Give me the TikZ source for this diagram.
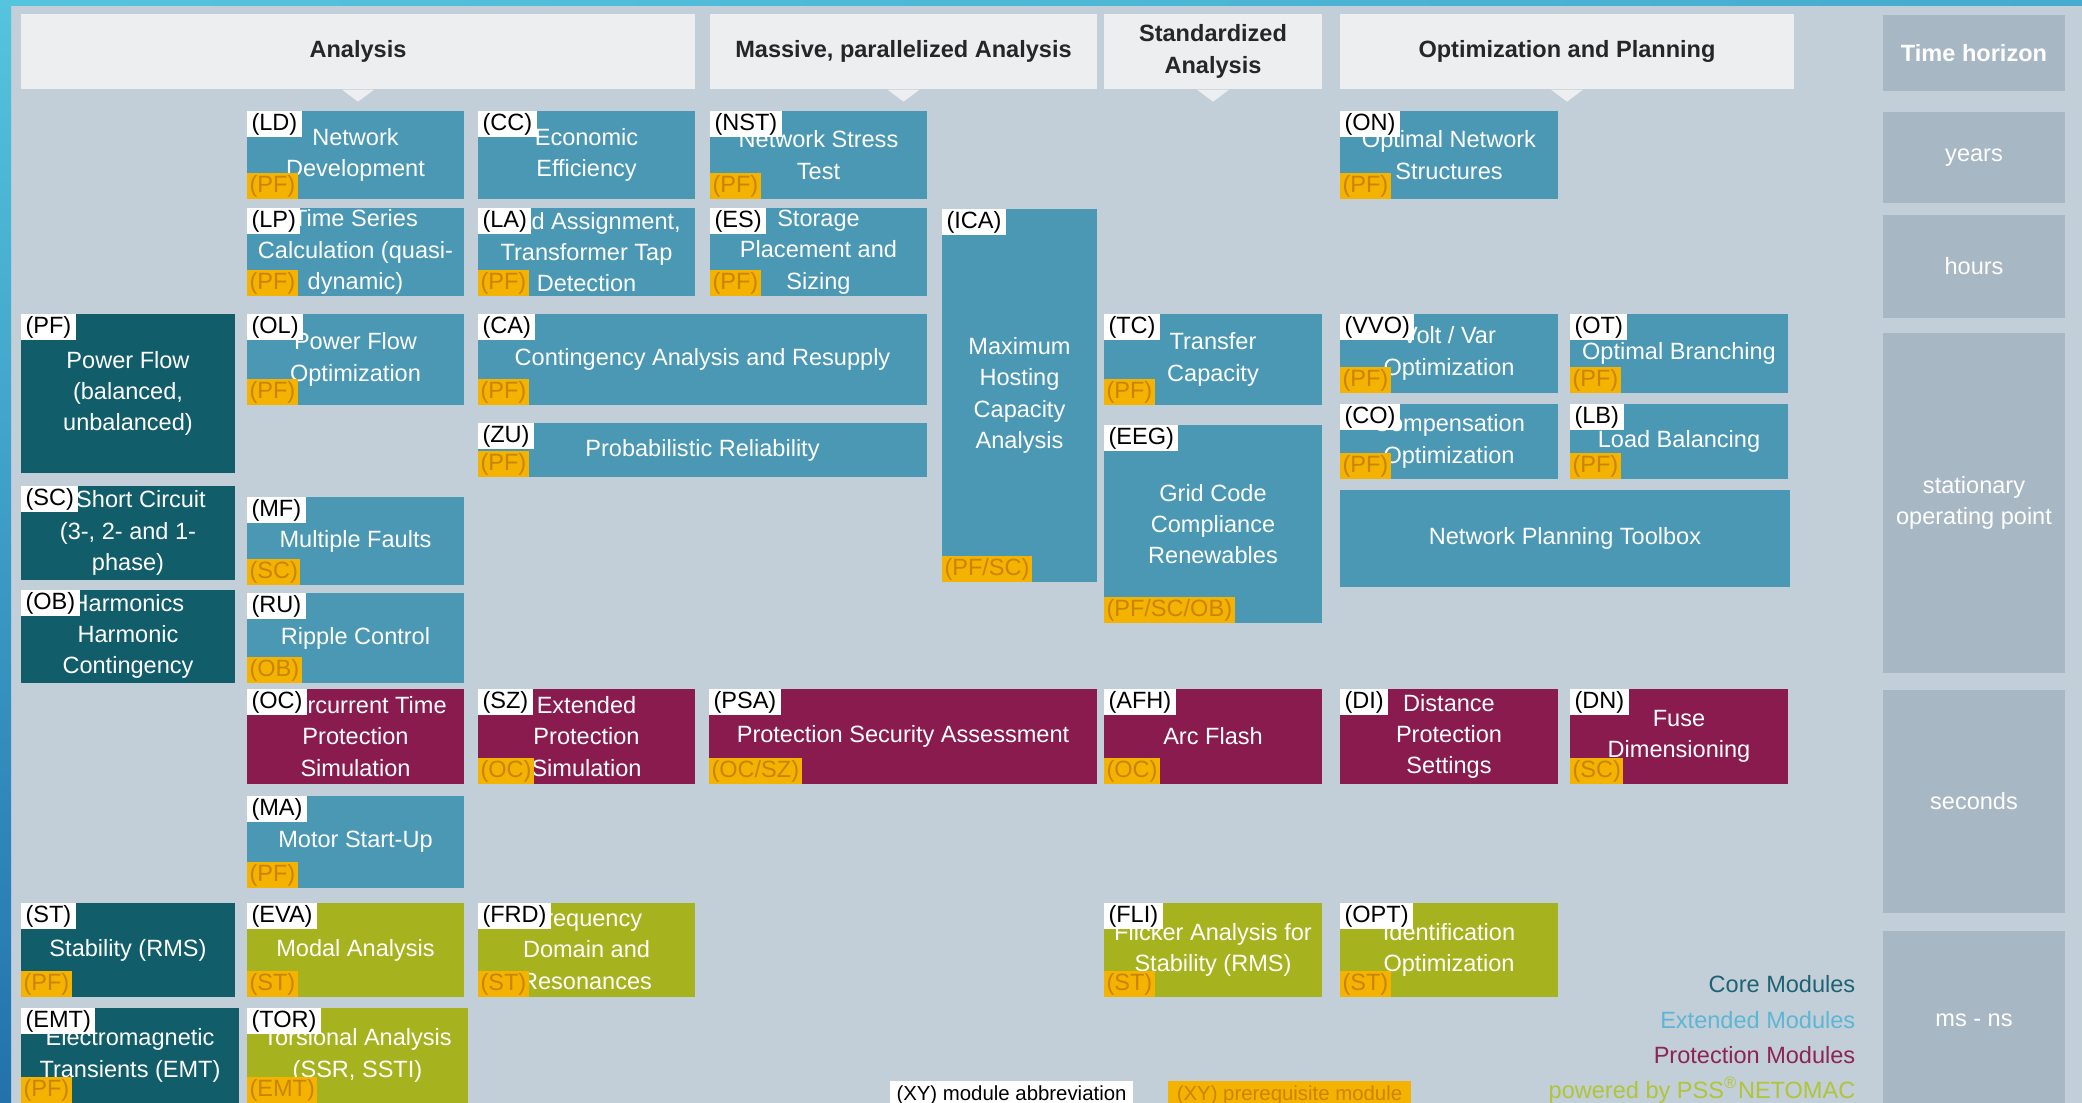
\documentclass[tikz,border=0pt]{standalone}
\usepackage{fontspec}
\setmainfont{Liberation Sans}
\definecolor{panelbg}{HTML}{C2CED8}
\definecolor{headbg}{HTML}{ECEEF0}
\definecolor{timebg}{HTML}{A8B7C4}
\definecolor{coremod}{HTML}{115D6A}
\definecolor{extmod}{HTML}{4A98B4}
\definecolor{protmod}{HTML}{8A1B4F}
\definecolor{dynmod}{HTML}{A7B21F}
\definecolor{prereqbg}{HTML}{F3B300}
\definecolor{prereqtx}{HTML}{C98400}
\definecolor{framecyan}{HTML}{55C4DE}
\definecolor{frameblue}{HTML}{2272AC}
\definecolor{legcore}{HTML}{1D6373}
\definecolor{legext}{HTML}{5DB6D4}
\definecolor{legprot}{HTML}{8C2455}
\definecolor{legdyn}{HTML}{B2C437}

\begin{document}
\begin{tikzpicture}[x=0.1mm,y=-0.1mm]
    \tikzstyle{every node}+=[inner sep=0pt, font=\fontsize{6.7}{8.9}\selectfont]
    \tikzstyle{module}=[align=center, text=white]
    \tikzstyle{modcore}=[module, fill=coremod]
    \tikzstyle{modext}=[module, fill=extmod]
    \tikzstyle{modprot}=[module, fill=protmod]
    \tikzstyle{moddyn}=[module, fill=dynmod]
    \tikzstyle{abbrlabel}=[fill=white, text=black, anchor=north west, inner xsep=0.45mm, minimum height=2.6mm]
    \tikzstyle{prereqlabel}=[fill=prereqbg, text=prereqtx, anchor=south west, inner xsep=0.25mm, minimum height=2.6mm]
    \tikzstyle{headbox}=[fill=headbg, text=black!85, align=center, minimum height=7.5mm, font=\fontsize{6.7}{8.9}\selectfont\bfseries]
    \tikzstyle{horizonbox}=[fill=timebg, text=white, align=center, minimum width=18.2mm]
    \tikzstyle{legendtext}=[anchor=east]
    \useasboundingbox (0,0) rectangle (2082,1103);
    \fill[panelbg] (0,0) rectangle (2082,1103);
    \shade[left color=framecyan, right color=framecyan!70!frameblue] (0,0) rectangle (2082,6);
    \shade[top color=framecyan, bottom color=frameblue] (0,0) rectangle (11,1103);

    \node[headbox, minimum width=67.4mm] (analysis) at (358,51.5) {Analysis};
    \fill[headbg] ([xshift=-1.6mm]analysis.south) -- ([xshift=1.6mm]analysis.south) -- ([yshift=-1.2mm]analysis.south) -- cycle;
    \node[headbox, minimum width=38.7mm] (massive) at (903.5,51.5) {Massive, parallelized Analysis};
    \fill[headbg] ([xshift=-1.6mm]massive.south) -- ([xshift=1.6mm]massive.south) -- ([yshift=-1.2mm]massive.south) -- cycle;
    \node[headbox, minimum width=21.8mm] (standard) at (1213,51.5) {Standardized\\Analysis};
    \fill[headbg] ([xshift=-1.6mm]standard.south) -- ([xshift=1.6mm]standard.south) -- ([yshift=-1.2mm]standard.south) -- cycle;
    \node[headbox, minimum width=45.4mm] (optim) at (1567,51.5) {Optimization and Planning};
    \fill[headbg] ([xshift=-1.6mm]optim.south) -- ([xshift=1.6mm]optim.south) -- ([yshift=-1.2mm]optim.south) -- cycle;

    \node[horizonbox, minimum height=7.6mm, font=\fontsize{6.7}{8.9}\selectfont\bfseries] (horizon) at (1974,53) {Time horizon};
    \node[horizonbox, minimum height=9.1mm] (years) at (1974,157.5) {years};
    \node[horizonbox, minimum height=10.3mm] (hours) at (1974,266.5) {hours};
    \node[horizonbox, minimum height=34mm] (stationary) at (1974,503) {stationary\\operating point};
    \node[horizonbox, minimum height=22.3mm] (seconds) at (1974,801.5) {seconds};
    \node[horizonbox, minimum height=17.9mm] (msns) at (1974,1020.5) {ms - ns};

    \node[modext, minimum width=21.7mm, minimum height=8.8mm] (ld) at (355.5,155) {Network\\Development};
    \node[abbrlabel] (ldabbr) at (ld.north west) {(LD)};
    \node[prereqlabel] (ldpre) at (ld.south west) {(PF)};
    \node[modext, minimum width=21.7mm, minimum height=8.8mm] (cc) at (586.5,155) {Economic\\Efficiency};
    \node[abbrlabel] (ccabbr) at (cc.north west) {(CC)};
    \node[modext, minimum width=21.7mm, minimum height=8.8mm] (nst) at (818.5,155) {Network Stress\\Test};
    \node[abbrlabel] (nstabbr) at (nst.north west) {(NST)};
    \node[prereqlabel] (nstpre) at (nst.south west) {(PF)};
    \node[modext, minimum width=21.8mm, minimum height=8.8mm] (on) at (1449,155) {Optimal Network\\Structures};
    \node[abbrlabel] (onabbr) at (on.north west) {(ON)};
    \node[prereqlabel] (onpre) at (on.south west) {(PF)};

    \node[modext, minimum width=21.7mm, minimum height=8.8mm] (lp) at (355.5,252) {Time Series\\Calculation (quasi-\\dynamic)};
    \node[abbrlabel] (lpabbr) at (lp.north west) {(LP)};
    \node[prereqlabel] (lppre) at (lp.south west) {(PF)};
    \node[modext, minimum width=21.7mm, minimum height=8.8mm] (la) at (586.5,252) {Load Assignment,\\Transformer Tap\\Detection};
    \node[abbrlabel] (laabbr) at (la.north west) {(LA)};
    \node[prereqlabel] (lapre) at (la.south west) {(PF)};
    \node[modext, minimum width=21.7mm, minimum height=8.8mm] (es) at (818.5,252) {Storage\\Placement and\\Sizing};
    \node[abbrlabel] (esabbr) at (es.north west) {(ES)};
    \node[prereqlabel] (espre) at (es.south west) {(PF)};
    \node[modext, minimum width=15.5mm, minimum height=37.3mm] (ica) at (1019.5,395.5) {Maximum\\Hosting\\Capacity\\Analysis};
    \node[abbrlabel] (icaabbr) at (ica.north west) {(ICA)};
    \node[prereqlabel] (icapre) at (ica.south west) {(PF/SC)};

    \node[modcore, minimum width=21.4mm, minimum height=15.9mm] (pf) at (128,393.5) {Power Flow\\(balanced,\\unbalanced)};
    \node[abbrlabel] (pfabbr) at (pf.north west) {(PF)};
    \node[modext, minimum width=21.7mm, minimum height=9.1mm] (ol) at (355.5,359.5) {Power Flow\\Optimization};
    \node[abbrlabel] (olabbr) at (ol.north west) {(OL)};
    \node[prereqlabel] (olpre) at (ol.south west) {(PF)};
    \node[modext, minimum width=44.9mm, minimum height=9.1mm] (ca) at (702.5,359.5) {Contingency Analysis and Resupply};
    \node[abbrlabel] (caabbr) at (ca.north west) {(CA)};
    \node[prereqlabel] (capre) at (ca.south west) {(PF)};
    \node[modext, minimum width=21.8mm, minimum height=9.1mm] (tc) at (1213,359.5) {Transfer\\Capacity};
    \node[abbrlabel] (tcabbr) at (tc.north west) {(TC)};
    \node[prereqlabel] (tcpre) at (tc.south west) {(PF)};
    \node[modext, minimum width=21.8mm, minimum height=7.9mm] (vvo) at (1449,353.5) {Volt / Var\\Optimization};
    \node[abbrlabel] (vvoabbr) at (vvo.north west) {(VVO)};
    \node[prereqlabel] (vvopre) at (vvo.south west) {(PF)};
    \node[modext, minimum width=21.8mm, minimum height=7.9mm] (ot) at (1679,353.5) {Optimal Branching};
    \node[abbrlabel] (otabbr) at (ot.north west) {(OT)};
    \node[prereqlabel] (otpre) at (ot.south west) {(PF)};
    \node[modext, minimum width=44.9mm, minimum height=5.4mm] (zu) at (702.5,450) {Probabilistic Reliability};
    \node[abbrlabel] (zuabbr) at (zu.north west) {(ZU)};
    \node[prereqlabel] (zupre) at (zu.south west) {(PF)};
    \node[modext, minimum width=21.8mm, minimum height=19.8mm] (eeg) at (1213,524) {Grid Code\\Compliance\\Renewables};
    \node[abbrlabel] (eegabbr) at (eeg.north west) {(EEG)};
    \node[prereqlabel] (eegpre) at (eeg.south west) {(PF/SC/OB)};
    \node[modext, minimum width=21.8mm, minimum height=7.5mm] (co) at (1449,441.5) {Compensation\\Optimization};
    \node[abbrlabel] (coabbr) at (co.north west) {(CO)};
    \node[prereqlabel] (copre) at (co.south west) {(PF)};
    \node[modext, minimum width=21.8mm, minimum height=7.5mm] (lb) at (1679,441.5) {Load Balancing};
    \node[abbrlabel] (lbabbr) at (lb.north west) {(LB)};
    \node[prereqlabel] (lbpre) at (lb.south west) {(PF)};
    \node[modext, minimum width=45mm, minimum height=9.7mm] (npt) at (1565,538.5) {Network Planning Toolbox};

    \node[modcore, minimum width=21.4mm, minimum height=9.4mm] (sc) at (128,533) {\hspace*{2.6mm}Short Circuit\\(3-, 2- and 1-\\phase)};
    \node[abbrlabel] (scabbr) at (sc.north west) {(SC)};
    \node[modext, minimum width=21.7mm, minimum height=8.8mm] (mf) at (355.5,541) {Multiple Faults};
    \node[abbrlabel] (mfabbr) at (mf.north west) {(MF)};
    \node[prereqlabel] (mfpre) at (mf.south west) {(SC)};
    \node[modcore, minimum width=21.4mm, minimum height=9.3mm] (ob) at (128,636.5) {Harmonics\\Harmonic\\Contingency};
    \node[abbrlabel] (obabbr) at (ob.north west) {(OB)};
    \node[modext, minimum width=21.7mm, minimum height=9mm] (ru) at (355.5,638) {Ripple Control};
    \node[abbrlabel] (ruabbr) at (ru.north west) {(RU)};
    \node[prereqlabel] (rupre) at (ru.south west) {(OB)};

    \node[modprot, minimum width=21.7mm, minimum height=9.5mm] (oc) at (355.5,736.5) {Overcurrent Time\\Protection\\Simulation};
    \node[abbrlabel] (ocabbr) at (oc.north west) {(OC)};
    \node[modprot, minimum width=21.7mm, minimum height=9.5mm] (sz) at (586.5,736.5) {Extended\\Protection\\Simulation};
    \node[abbrlabel] (szabbr) at (sz.north west) {(SZ)};
    \node[prereqlabel] (szpre) at (sz.south west) {(OC)};
    \node[modprot, minimum width=38.8mm, minimum height=9.5mm] (psa) at (903,736.5) {Protection Security Assessment};
    \node[abbrlabel] (psaabbr) at (psa.north west) {(PSA)};
    \node[prereqlabel] (psapre) at (psa.south west) {(OC/SZ)};
    \node[modprot, minimum width=21.8mm, minimum height=9.5mm] (afh) at (1213,736.5) {Arc Flash};
    \node[abbrlabel] (afhabbr) at (afh.north west) {(AFH)};
    \node[prereqlabel] (afhpre) at (afh.south west) {(OC)};
    \node[modprot, minimum width=21.8mm, minimum height=9.5mm] (di) at (1449,736.5) {Distance\\Protection\\Settings};
    \node[abbrlabel] (diabbr) at (di.north west) {(DI)};
    \node[modprot, minimum width=21.8mm, minimum height=9.5mm] (dn) at (1679,736.5) {Fuse\\Dimensioning};
    \node[abbrlabel] (dnabbr) at (dn.north west) {(DN)};
    \node[prereqlabel] (dnpre) at (dn.south west) {(SC)};
    \node[modext, minimum width=21.7mm, minimum height=9.2mm] (ma) at (355.5,842) {Motor Start-Up};
    \node[abbrlabel] (maabbr) at (ma.north west) {(MA)};
    \node[prereqlabel] (mapre) at (ma.south west) {(PF)};

    \node[modcore, minimum width=21.4mm, minimum height=9.4mm] (st) at (128,950) {Stability (RMS)};
    \node[abbrlabel] (stabbr) at (st.north west) {(ST)};
    \node[prereqlabel] (stpre) at (st.south west) {(PF)};
    \node[moddyn, minimum width=21.7mm, minimum height=9.4mm] (eva) at (355.5,950) {Modal Analysis};
    \node[abbrlabel] (evaabbr) at (eva.north west) {(EVA)};
    \node[prereqlabel] (evapre) at (eva.south west) {(ST)};
    \node[moddyn, minimum width=21.7mm, minimum height=9.4mm] (frd) at (586.5,950) {Frequency\\Domain and\\Resonances};
    \node[abbrlabel] (frdabbr) at (frd.north west) {(FRD)};
    \node[prereqlabel] (frdpre) at (frd.south west) {(ST)};
    \node[moddyn, minimum width=21.8mm, minimum height=9.4mm] (fli) at (1213,950) {Flicker Analysis for\\Stability (RMS)};
    \node[abbrlabel] (fliabbr) at (fli.north west) {(FLI)};
    \node[prereqlabel] (flipre) at (fli.south west) {(ST)};
    \node[moddyn, minimum width=21.8mm, minimum height=9.4mm] (opt) at (1449,950) {Identification\\Optimization};
    \node[abbrlabel] (optabbr) at (opt.north west) {(OPT)};
    \node[prereqlabel] (optpre) at (opt.south west) {(ST)};
    \node[modcore, minimum width=21.8mm, minimum height=9.5mm] (emt) at (130,1055.5) {Electromagnetic\\Transients (EMT)};
    \node[abbrlabel] (emtabbr) at (emt.north west) {(EMT)};
    \node[prereqlabel] (emtpre) at (emt.south west) {(PF)};
    \node[moddyn, minimum width=22.1mm, minimum height=9.5mm] (tor) at (357.5,1055.5) {Torsional Analysis\\(SSR, SSTI)};
    \node[abbrlabel] (torabbr) at (tor.north west) {(TOR)};
    \node[prereqlabel] (torpre) at (tor.south west) {(EMT)};

    \node[legendtext, text=legcore] (legcoremod) at (1856,984) {Core Modules};
    \node[legendtext, text=legext] (legextmod) at (1856,1020) {Extended Modules};
    \node[legendtext, text=legprot] (legprotmod) at (1856,1055) {Protection Modules};
    \node[legendtext, text=legdyn] (legpowered) at (1856,1090) {powered by PSS\textsuperscript{®}NETOMAC};
    \node[fill=white, text=black, anchor=north, minimum width=24.3mm, minimum height=3mm, font=\fontsize{5.8}{7}\selectfont] (keyabbr) at (1011.5,1080) {(XY) module abbreviation};
    \node[fill=prereqbg, text=prereqtx, anchor=north, minimum width=24.3mm, minimum height=3mm, font=\fontsize{5.8}{7}\selectfont] (keypre) at (1289.5,1080) {(XY) prerequisite module};
\end{tikzpicture}
\end{document}
